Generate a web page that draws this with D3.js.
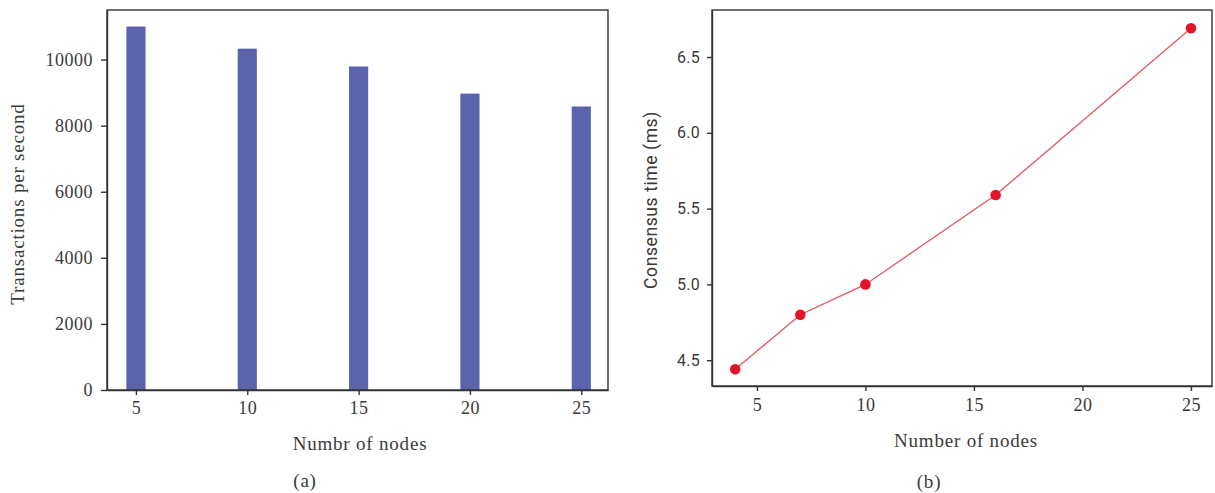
<!DOCTYPE html>
<html>
<head>
<meta charset="utf-8">
<script src="https://cdn.jsdelivr.net/npm/d3@7"></script>
<style>
  body { margin: 0; background: #fff; }
  .axis text { font-family: "Liberation Serif", "DejaVu Serif", serif; font-size: 18px; letter-spacing: 0.5px; fill: #3a3a3a; }
  .axis.sans text { font-family: Roboto, "Liberation Sans", sans-serif; font-size: 16px; letter-spacing: 0.3px; }
  .axis path, .axis line { stroke: #333; stroke-width: 1.4; }
  .label { font-family: "Liberation Serif", "DejaVu Serif", serif; font-size: 19px; letter-spacing: 0.8px; fill: #3a3a3a; }
  .label.sans { font-family: Roboto, "Liberation Sans", sans-serif; font-size: 17.5px; letter-spacing: 0.6px; }
</style>
</head>
<body>
<svg id="chart" width="1215" height="493"></svg>
<script>
// panel (a): throughput by node count
var barNodes = [5, 10, 15, 20, 25];
var barTps = [11000, 10330, 9790, 8970, 8580];
var barTicksX = [5, 10, 15, 20, 25];
var barTicksY = [0, 2000, 4000, 6000, 8000, 10000];

// panel (b): consensus time by node count
var lineNodes = [4, 7, 10, 16, 25];
var lineMs = [4.44, 4.80, 5.00, 5.59, 6.69];
var lineTicksX = [5, 10, 15, 20, 25];
var lineTicksY = [4.5, 5.0, 5.5, 6.0, 6.5];

var svg = d3.select("#chart");

// ---- panel (a)
var xa = d3.scaleLinear().domain([3.7, 26.2]).range([107, 608]);
var ya = d3.scaleLinear().domain([0, 11500]).range([390, 10]);

svg.append("g")
  .selectAll("rect")
  .data(barNodes)
  .enter().append("rect")
    .attr("x", function(d) { return xa(d - 0.43); })
    .attr("width", function(d) { return xa(d + 0.43) - xa(d - 0.43); })
    .attr("y", function(d, i) { return ya(barTps[i]); })
    .attr("height", function(d, i) { return ya(0) - ya(barTps[i]); })
    .attr("fill", "#5c63ad");

svg.append("rect")
    .attr("x", xa.range()[0]).attr("y", ya.range()[1])
    .attr("width", xa.range()[1] - xa.range()[0])
    .attr("height", ya.range()[0] - ya.range()[1])
    .attr("fill", "none").attr("stroke", "#333").attr("stroke-width", 1.4);

svg.append("g")
    .attr("class", "axis")
    .attr("transform", "translate(0," + ya.range()[0] + ")")
    .call(d3.axisBottom(xa).tickValues(barTicksX).tickSize(5).tickPadding(6).tickSizeOuter(0));

svg.append("g")
    .attr("class", "axis")
    .attr("transform", "translate(" + xa.range()[0] + ",0)")
    .call(d3.axisLeft(ya).tickValues(barTicksY).tickFormat(d3.format("d")).tickSize(6).tickPadding(8).tickSizeOuter(0));

svg.append("text")
    .attr("class", "label")
    .attr("transform", "translate(24,204) rotate(-90)")
    .attr("text-anchor", "middle")
    .text("Transactions per second");

svg.append("text")
    .attr("class", "label")
    .attr("x", 360).attr("y", 450)
    .attr("text-anchor", "middle")
    .text("Numbr of nodes");

svg.append("text")
    .attr("class", "label")
    .attr("x", 305).attr("y", 487)
    .attr("text-anchor", "middle")
    .text("(a)");

// ---- panel (b)
var xb = d3.scaleLinear().domain([2.93, 25.97]).range([712, 1212]);
var yb = d3.scaleLinear().domain([4.33, 6.81]).range([386, 10]);

svg.append("rect")
    .attr("x", xb.range()[0]).attr("y", yb.range()[1])
    .attr("width", xb.range()[1] - xb.range()[0])
    .attr("height", yb.range()[0] - yb.range()[1])
    .attr("fill", "none").attr("stroke", "#333").attr("stroke-width", 1.4);

svg.append("g")
    .attr("class", "axis")
    .attr("transform", "translate(0," + yb.range()[0] + ")")
    .call(d3.axisBottom(xb).tickValues(lineTicksX).tickSize(5).tickPadding(7).tickSizeOuter(0));

svg.append("g")
    .attr("class", "axis sans")
    .attr("transform", "translate(" + xb.range()[0] + ",0)")
    .call(d3.axisLeft(yb).tickValues(lineTicksY).tickFormat(d3.format(".1f")).tickSize(5).tickPadding(7).tickSizeOuter(0));

var line = d3.line()
    .x(function(d, i) { return xb(lineNodes[i]); })
    .y(function(d) { return yb(d); });

svg.append("path")
    .datum(lineMs)
    .attr("d", line)
    .attr("fill", "none")
    .attr("stroke", "#e5575c")
    .attr("stroke-width", 1.3);

svg.append("g")
  .selectAll("circle")
  .data(lineMs)
  .enter().append("circle")
    .attr("cx", function(d, i) { return xb(lineNodes[i]); })
    .attr("cy", function(d) { return yb(d); })
    .attr("r", 5.3)
    .attr("fill", "#e3142a");

svg.append("text")
    .attr("class", "label sans")
    .attr("transform", "translate(657,200) rotate(-90)")
    .attr("text-anchor", "middle")
    .text("Consensus time (ms)");

svg.append("text")
    .attr("class", "label")
    .attr("x", 966).attr("y", 447)
    .attr("text-anchor", "middle")
    .text("Number of nodes");

svg.append("text")
    .attr("class", "label")
    .attr("x", 929).attr("y", 488)
    .attr("text-anchor", "middle")
    .text("(b)");
</script>
</body>
</html>
